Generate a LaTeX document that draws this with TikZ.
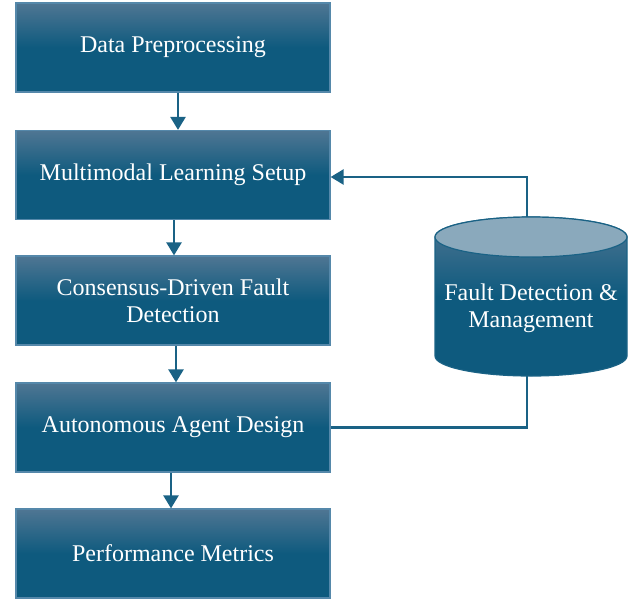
\documentclass[tikz,border=0pt]{standalone}
\usepackage{fontspec}
\setmainfont{Liberation Serif}
\usetikzlibrary{arrows.meta,positioning}
\definecolor{boxtop}{HTML}{4F7693}
\definecolor{boxbot}{HTML}{0E5A7E}
\definecolor{boxedge}{HTML}{5588AA}
\definecolor{linec}{HTML}{1A6285}
\definecolor{captop}{HTML}{8AA9BC}
\tikzset{
  stepbox/.style={rectangle, minimum width=314pt, minimum height=89pt, draw=boxedge, line width=1.2pt,
    top color=boxtop, bottom color=boxbot, middle color=boxbot, text=white, align=center,
    font=\fontsize{24}{27}\selectfont, inner sep=0pt},
  conn/.style={draw=linec, line width=2.4pt},
  arr/.style={conn, -{Triangle[width=15pt,length=13pt]}},
}
\begin{document}
\begin{tikzpicture}[x=1pt,y=-1pt]
\useasboundingbox (0,0) rectangle (632,598);
\node[stepbox] (b1) at (173,47.5) {Data Preprocessing};
\node[stepbox] (b2) at (173,175) {Multimodal Learning Setup};
\node[stepbox] (b3) at (173,300.5) {Consensus-Driven Fault\\Detection};
\node[stepbox] (b4) at (173,427.5) {Autonomous Agent Design};
\node[stepbox] (b5) at (173,553.5) {Performance Metrics};
% cylinder
\shade[top color=boxtop, bottom color=boxbot, middle color=boxbot, draw=linec, line width=1.2pt]
  (435,237) -- (435,356) arc[start angle=180, end angle=0, x radius=96, y radius=20]
  -- (627,237) arc[start angle=0, end angle=-180, x radius=96, y radius=20] -- cycle;
\fill[captop, draw=linec, line width=1.2pt] (531,237) ellipse[x radius=96, y radius=20];
\node[text=white, align=center, font=\fontsize{24}{27}\selectfont, inner sep=0pt] (fdm) at (531,308) {Fault Detection \&\\Management};
\coordinate (ctop) at (527,217);
\coordinate (cbot) at (527,376);
% arrows
\draw[arr] ([xshift=5pt]b1.south) -- ([xshift=5pt]b2.north);
\draw[arr] ([xshift=1pt]b2.south) -- ([xshift=1pt]b3.north);
\draw[arr] ([xshift=3pt]b3.south) -- ([xshift=3pt]b4.north);
\draw[arr] ([xshift=-2pt]b4.south) -- ([xshift=-2pt]b5.north);
\draw[arr] (ctop) |- ([yshift=-2pt]b2.east);
\draw[conn] (cbot) |- (b4.east);
\end{tikzpicture}
\end{document}
